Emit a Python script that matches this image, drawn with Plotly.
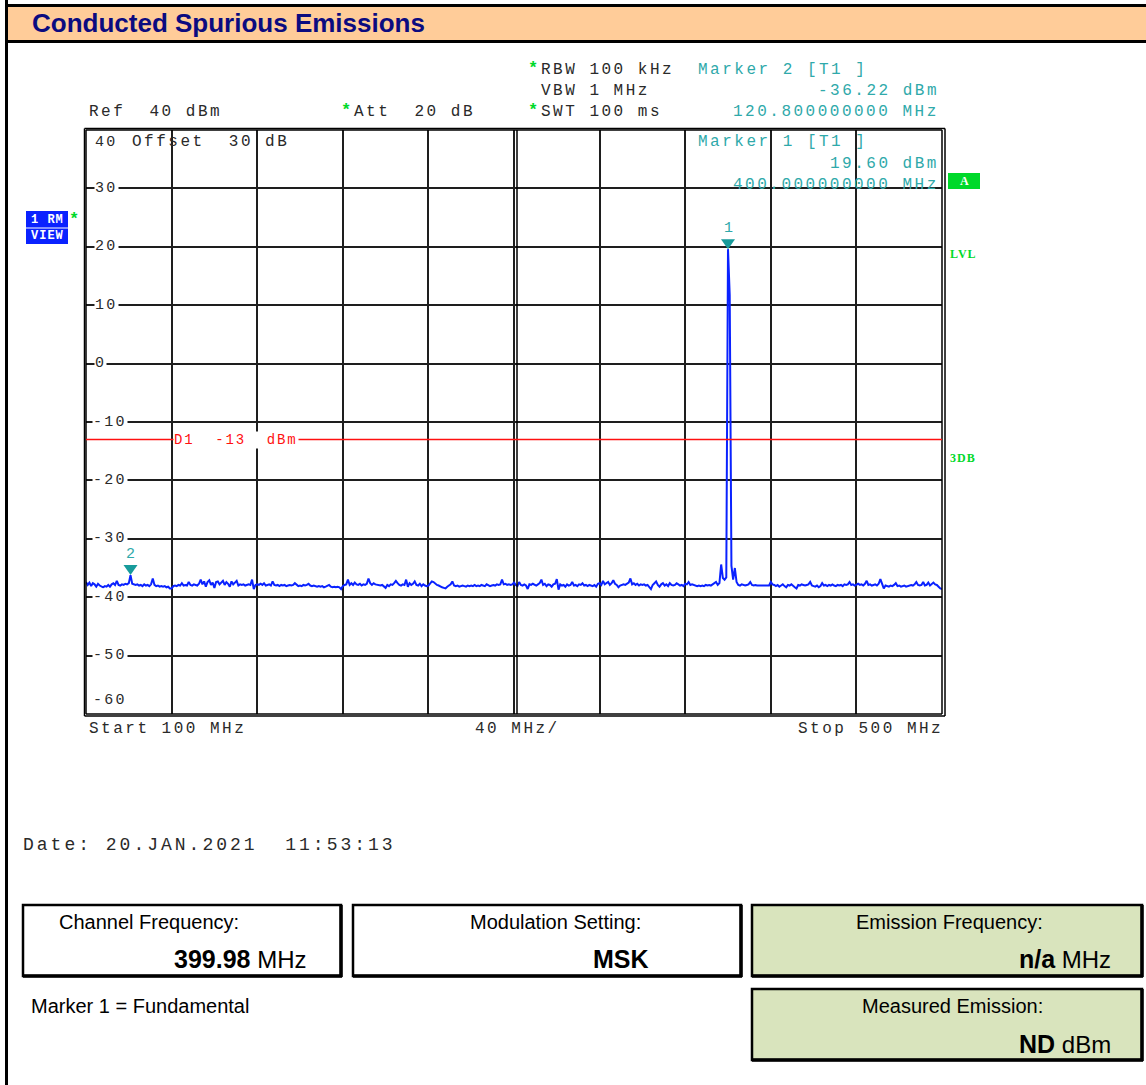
import numpy as np
import plotly.graph_objects as go

W, H = 1146, 1085

# ---- sweep settings and trace data (dBm, 501 sweep points) ----
START_MHZ = 100.0
STOP_MHZ = 500.0
LEVEL_DBM = [
    -37.4, -37.9, -37.5, -38.1, -37.6, -37.8, -38.2, -37.7, -38.0, -38.2, -38.3, -38.1, -38.2, -37.9, -38.2, -37.8, -37.6, -37.9, -37.2, -37.9, -38.0, -37.8, -37.9, -37.7, -37.8,
    -37.6, -36.22, -37.7, -37.8, -37.9, -37.8, -38.0, -37.9, -38.1, -37.8, -38.0, -37.9, -38.1, -37.8, -36.8, -37.9, -38.1, -38.0, -38.2, -38.1, -38.2, -38.1, -38.3, -38.2, -38.5,
    -38.5, -38.1, -38.0, -38.1, -37.9, -38.0, -37.6, -38.0, -37.9, -38.0, -37.4, -37.9, -38.0, -37.8, -37.9, -38.0, -37.7, -37.0, -37.8, -37.3, -38.2, -37.4, -37.1, -37.9, -37.5,
    -38.4, -37.4, -37.3, -37.8, -37.5, -37.2, -37.9, -37.4, -37.7, -38.2, -37.3, -37.8, -37.5, -37.2, -38.0, -37.8, -37.9, -37.8, -38.0, -37.9, -37.8, -37.9, -37.0, -38.6, -37.9,
    -37.8, -37.9, -37.7, -37.9, -37.6, -38.0, -37.9, -37.8, -38.0, -37.3, -37.9, -38.0, -37.9, -38.1, -37.9, -38.0, -37.9, -38.1, -38.0, -37.9, -38.0, -37.9, -37.6, -37.9, -38.1,
    -38.0, -38.1, -37.9, -38.0, -37.9, -37.7, -38.0, -38.1, -38.0, -38.1, -38.2, -38.1, -38.2, -38.1, -38.3, -38.2, -38.1, -37.9, -38.2, -38.3, -38.2, -38.3, -38.2, -38.3, -38.6,
    -38.1, -37.9, -37.8, -37.0, -37.9, -37.6, -37.9, -37.5, -37.8, -37.9, -37.7, -38.0, -37.8, -37.9, -37.7, -36.8, -37.6, -37.9, -37.6, -37.8, -37.9, -37.9, -38.0, -37.9, -38.1,
    -38.4, -37.9, -38.1, -37.8, -37.9, -37.6, -37.2, -37.6, -37.9, -38.0, -37.8, -37.9, -37.0, -38.2, -37.6, -37.9, -37.7, -37.3, -37.9, -38.0, -37.7, -38.1, -37.8, -38.0, -38.1,
    -38.0, -37.6, -37.3, -37.4, -37.7, -37.9, -38.0, -38.2, -38.3, -38.4, -38.5, -38.2, -38.0, -37.8, -37.3, -38.0, -38.1, -38.0, -38.2, -38.1, -38.0, -38.1, -38.2, -38.0, -38.1,
    -38.0, -38.1, -37.9, -38.1, -38.0, -38.1, -37.9, -38.0, -38.1, -37.8, -38.0, -38.1, -38.0, -37.9, -38.0, -37.8, -37.9, -37.8, -37.0, -37.8, -37.7, -37.9, -37.8, -37.9, -37.8,
    -37.5, -37.9, -38.1, -37.4, -37.9, -38.0, -37.8, -38.0, -38.6, -37.8, -37.9, -37.7, -37.9, -38.0, -37.8, -37.6, -37.0, -37.9, -37.7, -38.1, -37.8, -37.9, -38.2, -37.8, -37.7,
    -36.9, -38.7, -37.8, -38.0, -37.9, -38.2, -37.8, -38.0, -37.9, -37.4, -38.0, -37.9, -38.1, -37.8, -37.9, -37.6, -38.0, -37.9, -38.1, -37.9, -38.0, -38.1, -37.9, -38.2, -37.7,
    -37.6, -37.9, -37.2, -37.8, -37.6, -37.4, -37.9, -37.6, -37.1, -37.7, -37.9, -38.3, -38.0, -37.9, -37.8, -37.9, -37.7, -37.5, -36.8, -37.8, -37.6, -37.9, -37.7, -38.0, -37.8,
    -37.9, -37.8, -38.0, -37.9, -38.2, -38.6, -37.9, -37.6, -37.3, -37.9, -38.2, -37.8, -37.6, -38.0, -37.8, -38.1, -37.6, -37.9, -38.0, -37.9, -37.6, -37.8, -38.0, -37.9, -38.1,
    -37.7, -37.8, -37.4, -37.9, -37.8, -37.9, -38.0, -38.1, -38.0, -38.1, -38.0, -38.1, -37.9, -38.0, -37.9, -38.0, -37.8, -37.6, -37.4, -37.9, -37.6, -34.4, -36.7, -37.0, -36.6,
    19.60, 11.8, -34.6, -37.0, -35.0, -37.4, -37.9, -38.0, -37.8, -37.9, -38.0, -37.9, -37.8, -37.4, -37.9, -38.0, -37.9, -38.0, -38.0, -37.9, -38.0, -37.9, -38.0, -37.9, -38.0,
    -37.4, -37.8, -37.9, -38.1, -37.9, -38.2, -38.0, -37.8, -38.1, -38.3, -37.9, -38.0, -37.8, -38.1, -38.3, -38.5, -37.9, -38.0, -37.8, -37.9, -38.0, -37.9, -37.8, -37.4, -38.0,
    -38.1, -38.2, -38.0, -38.3, -38.1, -37.6, -38.0, -37.9, -38.1, -37.9, -38.0, -37.8, -38.0, -38.1, -37.9, -38.0, -37.9, -38.1, -37.8, -37.9, -37.8, -37.4, -37.9, -37.8, -38.0,
    -37.8, -37.7, -37.9, -37.8, -38.0, -37.7, -37.2, -37.9, -37.8, -38.0, -37.9, -37.8, -38.0, -37.7, -36.9, -37.8, -38.5, -38.0, -38.1, -38.2, -38.0, -38.1, -37.9, -37.6, -38.1,
    -38.0, -38.2, -38.1, -38.0, -38.2, -38.1, -38.0, -37.9, -38.0, -37.8, -37.4, -37.9, -38.0, -37.9, -37.4, -38.0, -37.9, -37.5, -38.0, -37.8, -37.5, -37.8, -37.9, -38.2, -38.5,
    -38.6,
]

REF_LEVEL = 40
BOTTOM_LEVEL = -60
Y_TICKS = [40, 30, 20, 10, 0, -10, -20, -30, -40, -50, -60]
X_DIV_MHZ = 40
D1_LIMIT_DBM = -13

# (label, frequency MHz, level dBm)
MARKERS = [("1", 400.0, 19.60), ("2", 120.8, -36.22)]

CHANNEL_FREQ = "399.98"
MODULATION = "MSK"
EMISSION_FREQ = "n/a"
MEASURED_EMISSION = "ND"

freqs = np.linspace(START_MHZ, STOP_MHZ, len(LEVEL_DBM))

# ---- styling ----
MONO = "Liberation Mono, DejaVu Sans Mono, monospace"
SANS = "Arial, Liberation Sans, sans-serif"
SERIF = "Liberation Serif, serif"
INK = "#2a2a2a"
TEAL = "#2fa9aa"
TEAL_DARK = "#179b9b"
GREEN = "#00d92a"
TRACE = "#0a22ff"
PEACH = "#ffcc99"
OLIVE = "#d9e4bd"

# plot area in pixels
PX0, PX1, PY0, PY1 = 86, 942, 130, 714


def px(x):
    return x / W


def py(y):
    return 1 - y / H


def spaced(s, sp):
    s = s.replace(" ", "\u00a0")
    return f'<span style="letter-spacing:{sp}px">{s}</span>'


annotations = []
shapes = []


def note(x, y, s, size=16, color=INK, xanchor="left", family=MONO, sp=2.5,
         bg=None, yanchor="middle"):
    annotations.append(dict(
        x=px(x), y=py(y), xref="paper", yref="paper", text=spaced(s, sp) if sp else s,
        showarrow=False, xanchor=xanchor, yanchor=yanchor,
        font=dict(family=family, size=size, color=color),
        bgcolor=bg, borderpad=0,
    ))


def line(x0, y0, x1, y1, color="black", width=1.5):
    shapes.append(dict(type="line", xref="paper", yref="paper",
                       x0=px(x0), y0=py(y0), x1=px(x1), y1=py(y1),
                       line=dict(color=color, width=width), layer="above"))


def rect(x0, y0, x1, y1, fill=None, color="black", width=0, layer="below"):
    shapes.append(dict(type="rect", xref="paper", yref="paper",
                       x0=px(x0), y0=py(y0), x1=px(x1), y1=py(y1),
                       fillcolor=fill, line=dict(color=color, width=width), layer=layer))


def star(x, y):
    note(x, y, "<b>*</b>", size=17, color=GREEN, sp=0)


# ---- page frame and title bar ----
line(6.5, 0, 6.5, H, width=3)
rect(6.5, 5.5, W + 5, 41.5, fill=PEACH, color="black", width=3)
annotations.append(dict(x=px(30), y=py(23), xref="paper", yref="paper",
                        text="<b>Conducted Spurious Emissions</b>", showarrow=False,
                        xanchor="left", yanchor="middle",
                        font=dict(family=SANS, size=26, color="#0b0b80")))

# ---- instrument header ----
note(88, 112, "Ref  40 dBm")
star(340, 110)
note(353, 112, "Att  20 dB")
star(527, 68)
note(540, 70, "RBW 100 kHz")
note(540, 91, "VBW 1 MHz")
star(527, 110)
note(540, 112, "SWT 100 ms")

note(697, 70, f"Marker {MARKERS[1][0]} [T1 ]", color=TEAL)
note(940, 91, f"{MARKERS[1][2]:.2f} dBm", color=TEAL, xanchor="right")
note(940, 112, f"{MARKERS[1][1]:.9f} MHz", color=TEAL, xanchor="right")
note(697, 142, f"Marker {MARKERS[0][0]} [T1 ]", color=TEAL)
note(940, 164, f"{MARKERS[0][2]:.2f} dBm", color=TEAL, xanchor="right")
note(940, 185, f"{MARKERS[0][1]:.9f} MHz", color=TEAL, xanchor="right")

# side badges
rect(26, 211, 68, 227.5, fill="#0a22ff")
rect(26, 228.5, 68, 244, fill="#0a22ff")
note(47, 219.5, "<b>1 RM</b>", size=12, color="white", xanchor="center", sp=1)
note(47, 236.5, "<b>VIEW</b>", size=12, color="white", xanchor="center", sp=1)
star(68, 219)
rect(948, 173, 980, 189, fill=GREEN)
note(964, 181, "<b>A</b>", size=12, color="white", xanchor="center", family=SERIF, sp=0)
note(949, 254, "<b>LVL</b>", color=GREEN, size=12, sp=1, family=SERIF)
note(949, 458, "<b>3DB</b>", color=GREEN, size=12, sp=1, family=SERIF)

# ---- plot frame (double lines) ----
line(84.5, 128.5, 945, 128.5)
line(84.5, 716, 945, 716)
line(84.5, 128.5, 84.5, 716)
line(945, 128.5, 945, 716)
line(PX0, PY0, PX1, PY0)
line(PX0, PY1, PX1, PY1)
line(PX0, PY0, PX0, PY1)
line(PX1, PY0, PX1, PY1)
line(517, PY0, 517, PY1)

# y-axis level labels drawn inside the grid
y_per_db = (PY1 - PY0) / (REF_LEVEL - BOTTOM_LEVEL)
for v in Y_TICKS:
    ypix = PY0 + (REF_LEVEL - v) * y_per_db
    if v == REF_LEVEL:
        ypix += 12
    elif v == BOTTOM_LEVEL:
        ypix -= 14
    note(92 if v < 0 else 94, ypix, f"{v}", size=15, sp=2.3, bg="white")
note(131, 142, "Offset  30 dB")

# x-axis captions
note(88, 729, f"Start {START_MHZ:.0f} MHz")
note(474, 729, f"{X_DIV_MHZ} MHz/")
note(944, 729, f"Stop {STOP_MHZ:.0f} MHz", xanchor="right")

# date line
note(22, 845, "Date: 20.JAN.2021  11:53:13", size=18, sp=3.0)

# display line D1
shapes.append(dict(type="line", xref="paper", yref="y", x0=px(PX0), x1=px(PX1),
                   y0=D1_LIMIT_DBM, y1=D1_LIMIT_DBM,
                   line=dict(color="#ff1010", width=1.5), layer="above"))
annotations.append(dict(x=140, y=D1_LIMIT_DBM, xref="x", yref="y",
                        text=spaced(f"D1  {D1_LIMIT_DBM}  dBm", 1.9), showarrow=False,
                        xanchor="left", yanchor="middle", bgcolor="white", borderpad=0,
                        xshift=1,
                        font=dict(family=MONO, size=14, color="#ff1010")))

# markers: downward triangles with their tip on the trace, numbered above
for label, f, lvl in MARKERS:
    shapes.append(dict(type="path", xref="x", yref="y", xsizemode="pixel", ysizemode="pixel",
                       xanchor=f, yanchor=lvl, path="M -7,10 L 7,10 L 0,0 Z",
                       fillcolor=TEAL_DARK, line=dict(width=0), layer="above"))
    annotations.append(dict(x=f, y=lvl, xref="x", yref="y", text=label, showarrow=False,
                            xanchor="center", yanchor="bottom", yshift=10,
                            font=dict(family=MONO, size=15, color=TEAL)))

# ---- summary boxes ----
def box(x0, y0, x1, y1, fill):
    rect(x0, y0, x1, y1, fill=fill, color="black", width=2.5, layer="below")
    line(x1, y0, x1, y1 + 1, width=3.5)
    line(x0, y1, x1 + 1, y1, width=3.5)


box(23, 905, 341, 976, "white")
box(353, 905, 741, 976, "white")
box(752, 905, 1142, 976, OLIVE)
box(752, 989, 1142, 1060, OLIVE)

LBL = dict(size=20, family=SANS, sp=0, color="black")
VAL = dict(size=24, family=SANS, sp=0, color="black", xanchor="right")
note(58, 922, "Channel Frequency:", **LBL)
note(307, 959, f'<b style="font-size:25px">{CHANNEL_FREQ}</b> MHz', **VAL)
note(469, 922, "Modulation Setting:", **LBL)
note(650, 959, f'<b style="font-size:25px">{MODULATION}</b>', **VAL)
note(855, 922, "Emission Frequency:", **LBL)
note(1112, 959, f'<b style="font-size:25px">{EMISSION_FREQ}</b> MHz', **VAL)
note(30, 1006, "Marker 1 = Fundamental", **LBL)
note(861, 1006, "Measured Emission:", **LBL)
note(1112, 1044, f'<b style="font-size:25px">{MEASURED_EMISSION}</b> dBm', **VAL)

# ---- figure ----
fig = go.Figure()
fig.add_trace(go.Scatter(x=freqs, y=LEVEL_DBM, mode="lines",
                         line=dict(color=TRACE, width=2), hoverinfo="skip",
                         showlegend=False))

fig.update_layout(
    width=W, height=H, margin=dict(l=0, r=0, t=0, b=0),
    paper_bgcolor="white", plot_bgcolor="white",
    xaxis=dict(domain=[px(PX0), px(PX1)], range=[START_MHZ, STOP_MHZ],
               tick0=START_MHZ, dtick=X_DIV_MHZ, showgrid=True,
               gridcolor="#1e1e1e", gridwidth=1.5, showticklabels=False,
               ticks="", zeroline=False, showline=False, fixedrange=True),
    yaxis=dict(domain=[py(PY1), py(PY0)], range=[BOTTOM_LEVEL, REF_LEVEL],
               tick0=0, dtick=10, showgrid=True, gridcolor="#1e1e1e", gridwidth=1.5,
               showticklabels=False, ticks="", zeroline=False, showline=False,
               fixedrange=True),
    annotations=annotations, shapes=shapes, showlegend=False,
)

fig.write_html("out.html")
